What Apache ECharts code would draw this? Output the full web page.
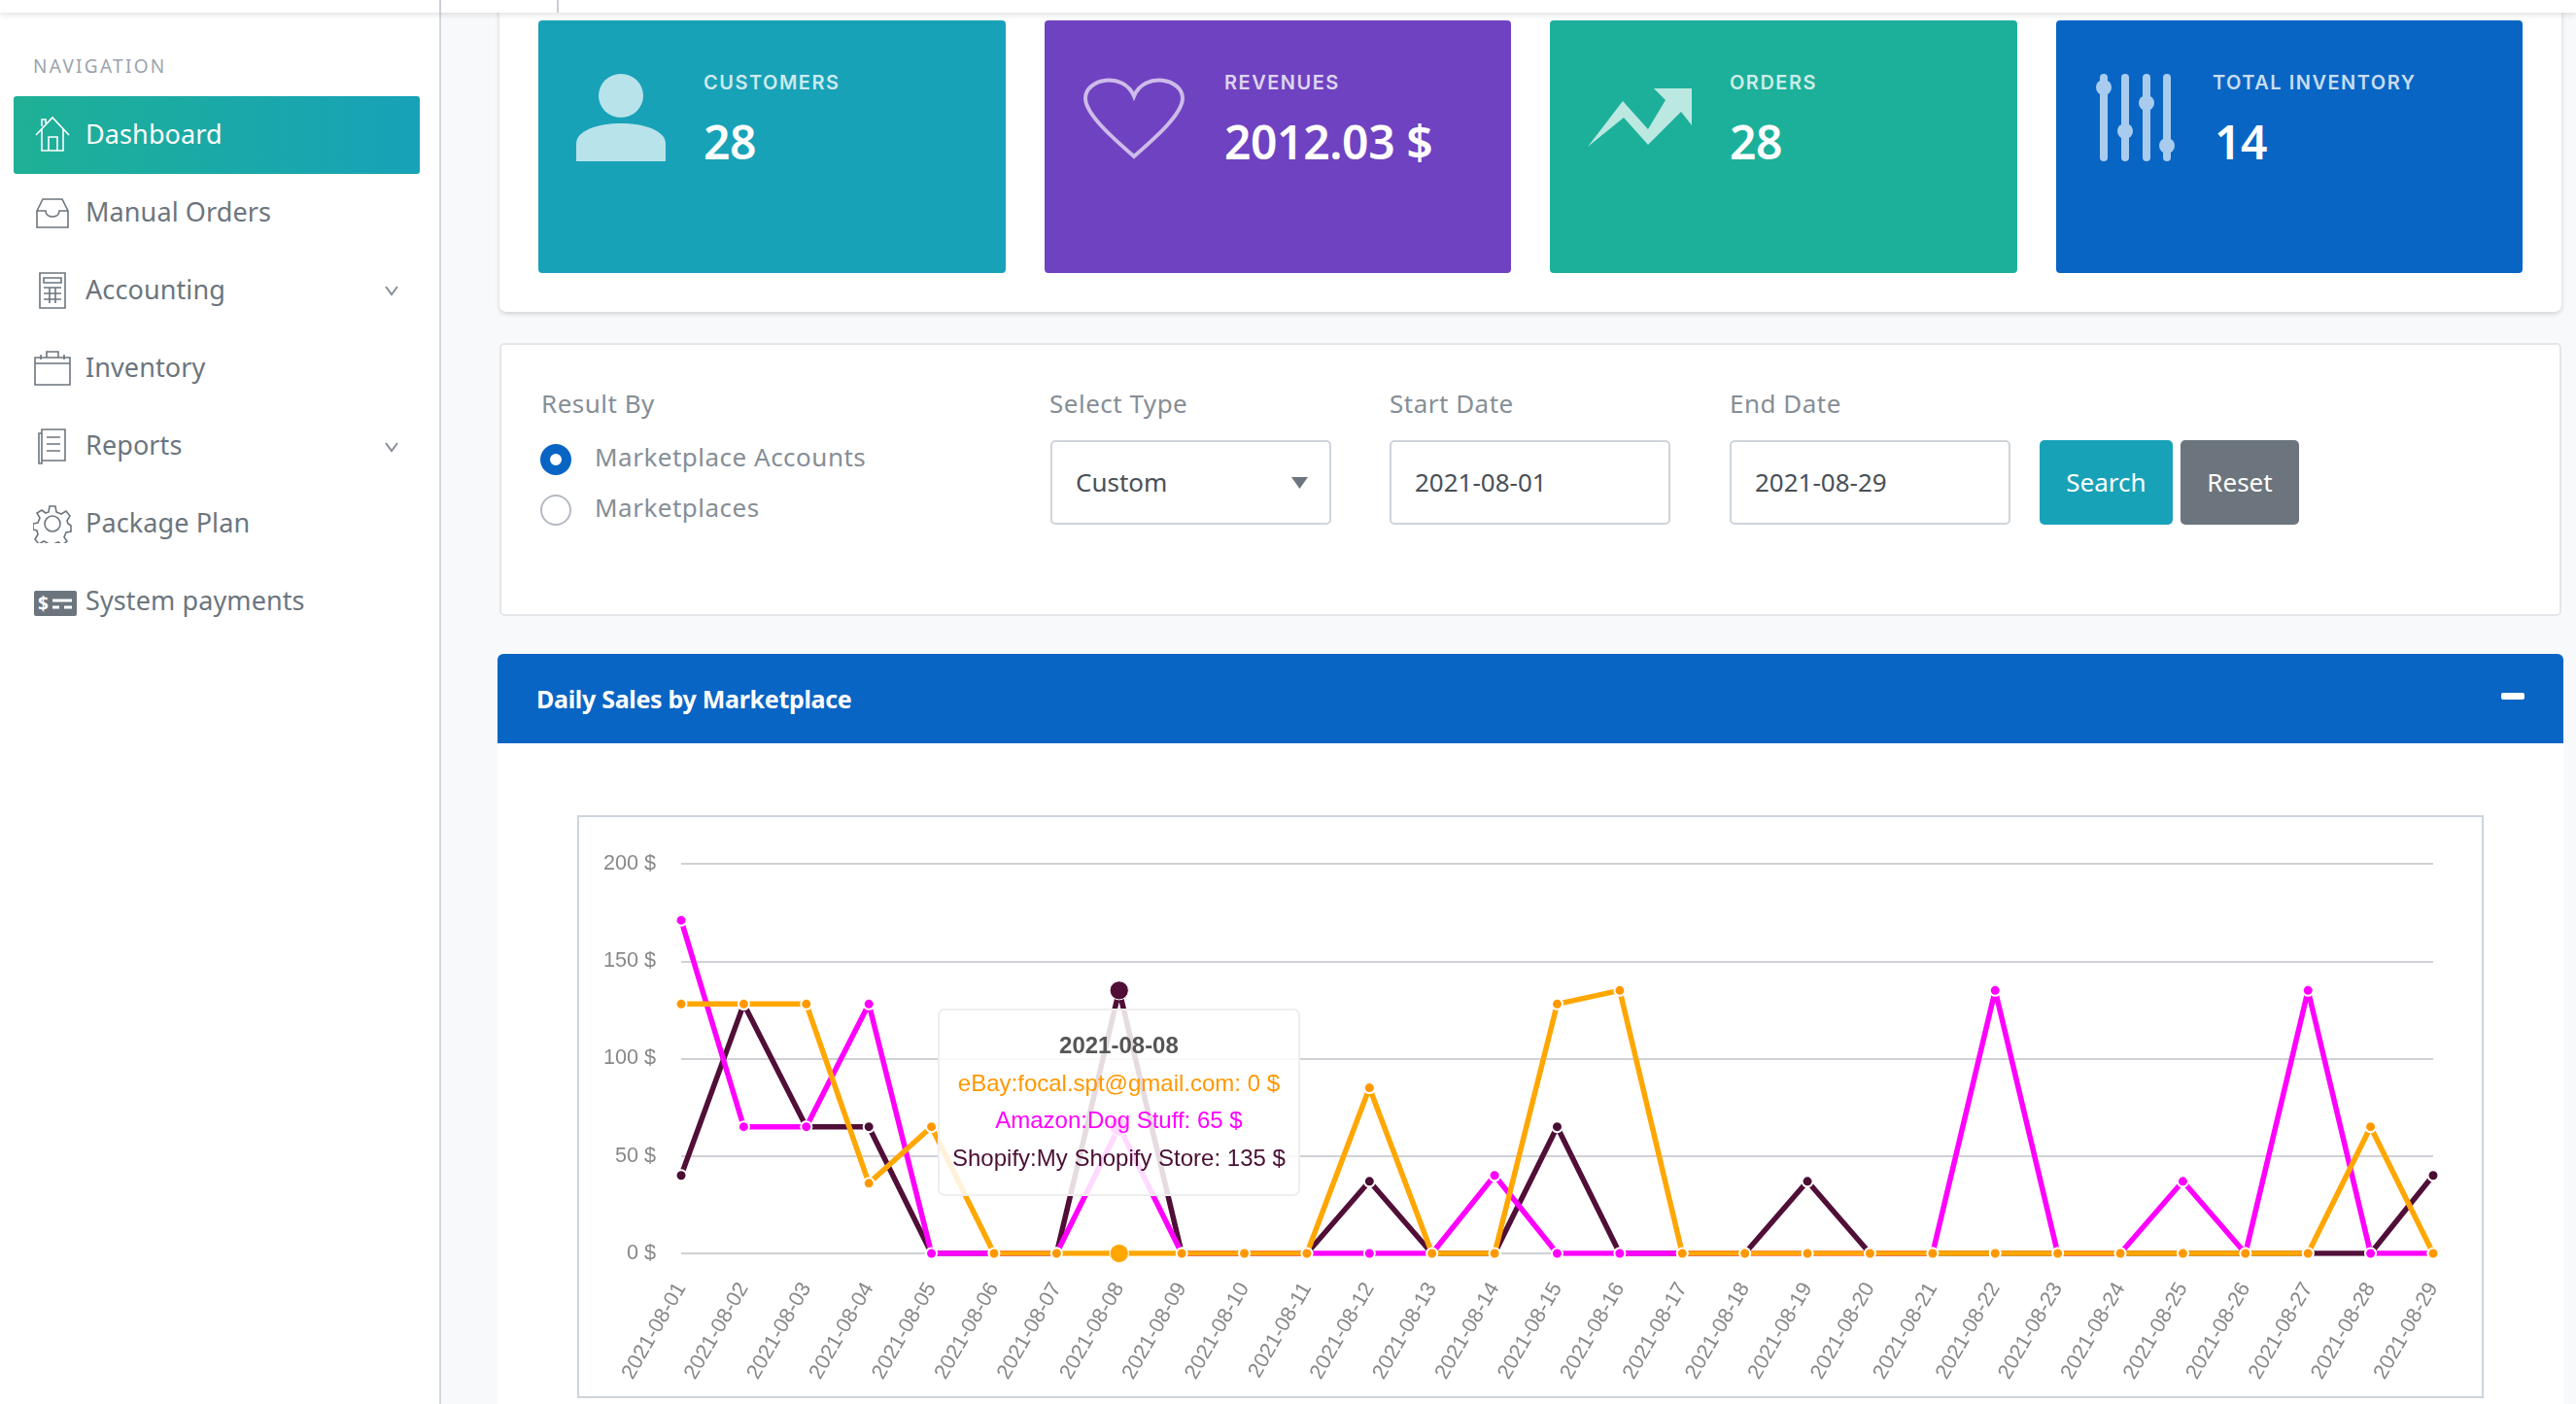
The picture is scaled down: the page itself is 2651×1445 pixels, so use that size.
<!DOCTYPE html>
<html>
<head>
<meta charset="utf-8">
<title>Dashboard</title>
<script src="https://cdn.jsdelivr.net/npm/echarts@6/dist/echarts.min.js"></script>
<style>
  html, body { margin: 0; padding: 0; width: 2651px; height: 1445px; overflow: hidden; background: #f8f9fa; font-family: "Noto Sans", sans-serif; }
  .abs, .nav-label, .nav-icon, .card, .card-title, .card-value, .card-icon, .form-label, .field, .btn { position: absolute; box-sizing: border-box; }
  .topbar { position: absolute; left: 0; top: 0; width: 2651px; height: 13px; background: #fff; box-shadow: 0 2px 6px rgba(0,0,0,.12); z-index: 3; }
  .sidebar { position: absolute; left: 0; top: 0; width: 454px; height: 1445px; background: #fff; border-right: 2px solid #d5d9e0; box-sizing: border-box; }
  .nav-head { position: absolute; left: 34px; top: 56px; font-size: 19px; line-height: 24px; letter-spacing: 2.3px; color: #9aa3ad; }
  .nav-active { position: absolute; left: 14px; top: 99px; width: 418px; height: 80px; border-radius: 3px; background: linear-gradient(90deg, #1fb096, #17a2b8); }
  .nav-label { left: 88px; height: 40px; line-height: 40px; font-size: 27px; letter-spacing: .1px; color: #6c757d; white-space: nowrap; }
  .nav-icon { left: 34px; width: 40px; height: 40px; fill: none; stroke: #6c757d; stroke-width: 1.6; }
  .panel-top { position: absolute; left: 514px; top: -10px; width: 2122px; height: 331px; background: #fff; border-radius: 7px; box-shadow: 0 2px 5px rgba(0,0,0,.16); }
  .card { top: 21px; height: 260px; border-radius: 4px; }
  .card-title { top: 72px; height: 26px; line-height: 26px; font-family: Inter, sans-serif; font-size: 20px; font-weight: 600; letter-spacing: 1.5px; color: rgba(255,255,255,.78); white-space: nowrap; }
  .card-value { top: 114px; height: 64px; line-height: 64px; font-size: 48px; font-weight: 600; letter-spacing: -.4px; color: #fff; white-space: nowrap; }
  .card-icon { overflow: visible; }
  .panel-form { position: absolute; left: 514px; top: 353px; width: 2122px; height: 281px; background: #fff; border: 2px solid #e4e6e9; border-radius: 5px; box-sizing: border-box; }
  .form-label { top: 397px; height: 36px; line-height: 36px; font-size: 26px; letter-spacing: .5px; color: #868e96; white-space: nowrap; }
  .field { top: 453px; height: 87px; width: 289px; background: #fff; border: 2px solid #ced4da; border-radius: 5px; padding-left: 24px; line-height: 83px; font-size: 26px; color: #495057; }
  .btn { top: 453px; height: 87px; border-radius: 5px; text-align: center; line-height: 87px; font-size: 26px; color: #fff; }
  .radio { position: absolute; left: 556px; width: 32px; height: 32px; border-radius: 50%; box-sizing: border-box; }
  .panel-head { position: absolute; left: 512px; top: 673px; width: 2126px; height: 92px; background: #0965c4; border-radius: 6px 6px 0 0; }
  .panel-title { position: absolute; left: 40px; top: 26px; line-height: 40px; font-size: 25px; font-weight: 700; letter-spacing: -.3px; color: #fff; white-space: nowrap; }
  .panel-minus { position: absolute; left: 2062px; top: 40px; width: 24px; height: 7px; border-radius: 2px; background: #fff; }
  .panel-body { position: absolute; left: 512px; top: 765px; width: 2126px; height: 680px; background: #fff; }
  #sales-chart { position: absolute; left: 594px; top: 839px; width: 1958px; height: 596px; border: 2px solid #ced4da; background: #fff; }
</style>
</head>
<body>
<div class="sidebar"></div>
<div class="topbar">
  <div class="abs" style="left:452px;top:0;width:2px;height:13px;background:#c9ced6"></div>
  <div class="abs" style="left:573px;top:0;width:2px;height:13px;background:#c9ced6"></div>
</div>

<div class="nav-head">NAVIGATION</div>
<div class="nav-active"></div>
<svg class="nav-icon" style="top:118px;stroke:#fff" viewBox="0 0 40 40"><path d="M3 21 20 3l17 18M9 15v22h22V15M16 37V23h9v14M9 12V5h4v4"/></svg>
<div class="nav-label" style="top:118px;color:#fff">Dashboard</div>
<svg class="nav-icon" viewBox="0 0 40 40" style="top:199px"><path d="M4 18 10 6h20l6 12v17H4zM4 18h9c0 8 14 8 14 0h9"/></svg>
<div class="nav-label" style="top:198px">Manual Orders</div>
<svg class="nav-icon" viewBox="0 0 40 40" style="top:279px"><path d="M7 2h26v36H7zM11 7h18v5H11zM11 17h18M11 23h18M11 29h18M17 17v16M23 17v16"/></svg>
<div class="nav-label" style="top:278px">Accounting</div>
<svg class="nav-icon" viewBox="0 0 40 40" style="top:359px"><path d="M2 9h36v28H2zM2 15h36M14 9V3h12v6M8 6v5M32 6v5"/></svg>
<div class="nav-label" style="top:358px">Inventory</div>
<svg class="nav-icon" viewBox="0 0 40 40" style="top:439px"><path d="M6 7h3V3h24v32H9V38H6zM9 7v28M14 11h14M14 18h14M14 25h14"/></svg>
<div class="nav-label" style="top:438px">Reports</div>
<svg class="nav-icon" viewBox="0 0 40 40" style="top:519px"><circle cx="20" cy="20" r="8"/><path d="M17 2h6l1 6 5 2 5-3 4 5-3 5 1 3 3 2v6l-5 1-2 5 3 4-5 4-4-3-3 1-1 5h-6l-1-5-4-2-5 3-4-5 3-5-1-4-4-1v-6l5-1 2-5-3-5 5-3 4 3 3-1z"/></svg>
<div class="nav-label" style="top:518px">Package Plan</div>
<svg class="nav-icon" viewBox="0 0 46 40" style="top:600px;width:46px;stroke:none"><rect x="1" y="8" width="44" height="26" rx="2" fill="#6c757d"/><path d="M20 18h20M20 25h7M32 25h8" stroke="#fff" stroke-width="3"/><text x="5" y="28" font-size="19" font-weight="700" fill="#fff">$</text></svg>
<div class="nav-label" style="top:598px">System payments</div>
<svg class="abs" style="left:395px;top:290px" width="16" height="18" fill="none" stroke="#868e96" stroke-width="2"><path d="M2 5l6 8 6-8"/></svg>
<svg class="abs" style="left:395px;top:451px" width="16" height="18" fill="none" stroke="#868e96" stroke-width="2"><path d="M2 5l6 8 6-8"/></svg>

<div class="panel-top"></div>
<div class="card" style="left:554px;width:481px;background:#18a2b8"></div>
<div class="card" style="left:1075px;width:480px;background:#6f42c1"></div>
<div class="card" style="left:1595px;width:481px;background:#1cb09a"></div>
<div class="card" style="left:2116px;width:480px;background:#0965c4"></div>
<svg class="card-icon" style="left:593px;top:76px" width="92" height="90" fill="#b9e3ea"><ellipse cx="46" cy="22.5" rx="23" ry="22.5"/><path d="M0 90V72C0 44 92 44 92 72V90z"/></svg>
<svg class="card-icon" style="left:1114px;top:79px" width="106" height="84" fill="none" stroke="#cdbbe9" stroke-width="4"><path d="M53 82C30 62 3 38 3 22 3 2 42-6 53 20 64-6 103 2 103 22 103 38 76 62 53 82z"/></svg>
<svg class="card-icon" style="left:1634px;top:91px" width="107" height="60" fill="#bbe8e1"><path d="M0 60 36 13 62 42 80 12 68 0h39v38L96 24 62 58 37 30z"/></svg>
<svg class="card-icon" style="left:2158px;top:76px" width="76" height="90" fill="#a9ccee"><rect x="3" y="0" width="8" height="90" rx="4"/><rect x="25" y="0" width="8" height="90" rx="4"/><rect x="47" y="0" width="8" height="90" rx="4"/><rect x="68" y="0" width="8" height="90" rx="4"/><ellipse cx="7" cy="14" rx="8" ry="8"/><ellipse cx="29" cy="59" rx="8" ry="8"/><ellipse cx="51" cy="30" rx="8" ry="8"/><ellipse cx="72" cy="74" rx="8" ry="8"/></svg>
<div class="card-title" style="left:724px">CUSTOMERS</div>
<div class="card-value" style="left:724px">28</div>
<div class="card-title" style="left:1260px">REVENUES</div>
<div class="card-value" style="left:1260px">2012.03 $</div>
<div class="card-title" style="left:1780px">ORDERS</div>
<div class="card-value" style="left:1780px">28</div>
<div class="card-title" style="left:2277px">TOTAL INVENTORY</div>
<div class="card-value" style="left:2279px">14</div>

<div class="panel-form"></div>
<div class="form-label" style="left:557px">Result By</div>
<div class="radio" style="top:457px;border:10px solid #0965c4;background:#fff"></div>
<div class="form-label" style="left:612px;top:452px">Marketplace Accounts</div>
<div class="radio" style="top:509px;border:2px solid #b4bac2;background:#fff"></div>
<div class="form-label" style="left:612px;top:504px">Marketplaces</div>
<div class="form-label" style="left:1080px">Select Type</div>
<div class="field" style="left:1081px">Custom</div>
<svg class="abs" style="left:1329px;top:491px" width="17" height="12" fill="#6c757d"><path d="M0 0h17L8.5 12z"/></svg>
<div class="form-label" style="left:1430px">Start Date</div>
<div class="field" style="left:1430px">2021-08-01</div>
<div class="form-label" style="left:1780px">End Date</div>
<div class="field" style="left:1780px">2021-08-29</div>
<div class="btn" style="left:2099px;width:137px;background:#18a2b8">Search</div>
<div class="btn" style="left:2244px;width:122px;background:#6c757d">Reset</div>

<div class="panel-body"></div>
<div class="panel-head">
  <div class="panel-title">Daily Sales by Marketplace</div>
  <div class="panel-minus"></div>
</div>
<div id="sales-chart"></div>

<script>
const dates = ["2021-08-01", "2021-08-02", "2021-08-03", "2021-08-04", "2021-08-05", "2021-08-06", "2021-08-07", "2021-08-08", "2021-08-09", "2021-08-10", "2021-08-11", "2021-08-12", "2021-08-13", "2021-08-14", "2021-08-15", "2021-08-16", "2021-08-17", "2021-08-18", "2021-08-19", "2021-08-20", "2021-08-21", "2021-08-22", "2021-08-23", "2021-08-24", "2021-08-25", "2021-08-26", "2021-08-27", "2021-08-28", "2021-08-29"];
const ebaySales = [128, 128, 128, 36, 65, 0, 0, 0, 0, 0, 0, 85, 0, 0, 128, 135, 0, 0, 0, 0, 0, 0, 0, 0, 0, 0, 0, 65, 0];
const amazonSales = [171, 65, 65, 128, 0, 0, 0, 65, 0, 0, 0, 0, 0, 40, 0, 0, 0, 0, 0, 0, 0, 135, 0, 0, 37, 0, 135, 0, 0];
const shopifySales = [40, 128, 65, 65, 0, 0, 0, 135, 0, 0, 0, 37, 0, 0, 65, 0, 0, 0, 37, 0, 0, 0, 0, 0, 0, 0, 0, 0, 40];
const seriesNames = ["eBay:focal.spt@gmail.com", "Amazon:Dog Stuff", "Shopify:My Shopify Store"];
const seriesColors = ["#ff9800", "#ff00ff", "#4a0e33"];
const axisFont = "'Liberation Sans', Arial, sans-serif";
const activeIndex = 7;

const chart = echarts.init(document.getElementById("sales-chart"), null, { renderer: "canvas" });

const lineSeries = (name, color, data, z) => ({
  name,
  type: "line",
  data,
  z,
  symbol: "circle",
  symbolSize: 11,
  showAllSymbol: true,
  itemStyle: { color, borderColor: "#fff", borderWidth: 2 },
  lineStyle: { color, width: 5.5 },
  emphasis: { scale: 1.75, lineStyle: { width: 5.5 }, itemStyle: { borderWidth: 1 } },
  animation: false,
});

function tooltipFormatter(params) {
  const lines = [`<div style="font-weight:700;color:#555">${params[0].axisValue}</div>`];
  params.forEach((item) => {
    lines.push(`<div style="color:${item.color}">${item.seriesName}: ${item.value} $</div>`);
  });
  return lines.join("");
}

chart.setOption({
  animation: false,
  backgroundColor: "#fff",
  grid: { left: 105, right: 50, top: 48, bottom: 147 },
  tooltip: {
    trigger: "axis",
    alwaysShowContent: true,
    transitionDuration: 0,
    axisPointer: { type: "none" },
    position: () => [369, 197],
    backgroundColor: "rgba(255,255,255,.85)",
    borderColor: "#eeeeee",
    borderWidth: 2,
    padding: [17, 13, 18, 13],
    extraCssText: "box-shadow:none;border-radius:7px;text-align:center;line-height:38.5px;",
    textStyle: { fontFamily: axisFont, fontSize: 24, color: "#555" },
    formatter: tooltipFormatter,
  },
  xAxis: {
    type: "category",
    data: dates,
    boundaryGap: false,
    axisLine: { show: false },
    axisTick: { show: false },
    axisLabel: { interval: 0, rotate: 60, margin: 32, color: "#888", fontSize: 21.6, fontFamily: axisFont },
  },
  yAxis: {
    type: "value",
    min: 0,
    max: 200,
    interval: 50,
    axisLine: { show: false },
    axisTick: { show: false },
    axisLabel: { formatter: "{value} $", margin: 26, padding: [3, 0, 0, 0], color: "#888", fontSize: 21.6, fontFamily: axisFont },
    splitLine: { lineStyle: { color: "#cfd1d6", width: 2 } },
  },
  series: [
    lineSeries(seriesNames[0], seriesColors[0], ebaySales, 5),
    lineSeries(seriesNames[1], seriesColors[1], amazonSales, 4),
    lineSeries(seriesNames[2], seriesColors[2], shopifySales, 3),
  ],
});

chart.dispatchAction({ type: "showTip", seriesIndex: 0, dataIndex: activeIndex });
</script>
</body>
</html>
